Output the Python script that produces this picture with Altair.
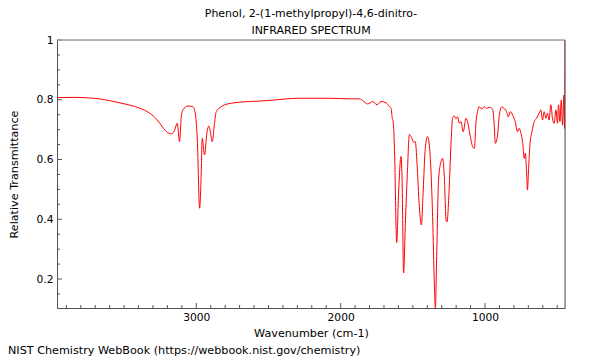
import altair as alt
import pandas as pd

# ---------------- data ----------------
wavenumber = [3965, 3843, 3739, 3670, 3600, 3531, 3462, 3393, 3323, 3275, 3233, 3199, 3171, 3150,
              3132, 3116, 3104, 3093, 3058, 3024, 3007, 2993, 2977, 2966, 2959, 2943, 2927, 2913,
              2901, 2890, 2874, 2862, 2827, 2782, 2735, 2514, 2285, 2077, 1939, 1870, 1847, 1813,
              1778, 1748, 1720, 1686, 1663, 1651, 1644, 1635, 1626, 1612, 1598, 1582, 1575, 1564,
              1552, 1538, 1524, 1508, 1495, 1483, 1471, 1455, 1441, 1428, 1414, 1398, 1381, 1363,
              1351, 1344, 1335, 1322, 1305, 1294, 1282, 1270, 1263, 1252, 1236, 1225, 1213, 1201,
              1190, 1178, 1167, 1151, 1132, 1121, 1104, 1086, 1074, 1062, 1052, 1040, 1024, 1005,
              987, 971, 948, 936, 929, 913, 901, 883, 867, 855, 839, 825, 809, 791, 775, 763, 751,
              740, 728, 721, 712, 706, 699, 689, 675, 659, 643, 625, 613, 602, 590, 578, 567, 556,
              544, 533, 521, 509, 498, 491, 481, 472, 463, 453, 449, 446]
transmittance = [0.807, 0.808, 0.806, 0.803, 0.797, 0.790, 0.782, 0.772, 0.755, 0.735, 0.708, 0.690,
                 0.686, 0.699, 0.721, 0.660, 0.743, 0.766, 0.779, 0.777, 0.754, 0.665, 0.437, 0.554,
                 0.671, 0.615, 0.688, 0.712, 0.688, 0.660, 0.721, 0.760, 0.777, 0.786, 0.790, 0.797,
                 0.805, 0.805, 0.803, 0.803, 0.797, 0.786, 0.794, 0.783, 0.794, 0.790, 0.777, 0.771,
                 0.743, 0.721, 0.610, 0.322, 0.498, 0.610, 0.543, 0.220, 0.386, 0.554, 0.684, 0.673,
                 0.658, 0.660, 0.587, 0.442, 0.381, 0.498, 0.637, 0.677, 0.621, 0.409, 0.186, 0.103,
                 0.275, 0.531, 0.593, 0.604, 0.542, 0.397, 0.391, 0.464, 0.649, 0.738, 0.746, 0.736,
                 0.743, 0.721, 0.727, 0.693, 0.738, 0.727, 0.682, 0.643, 0.637, 0.727, 0.760, 0.777,
                 0.769, 0.777, 0.771, 0.775, 0.769, 0.715, 0.654, 0.682, 0.749, 0.777, 0.769, 0.766,
                 0.743, 0.760, 0.749, 0.727, 0.693, 0.704, 0.688, 0.660, 0.604, 0.621, 0.559, 0.498,
                 0.559, 0.649, 0.693, 0.727, 0.738, 0.755, 0.766, 0.732, 0.760, 0.738, 0.755, 0.732,
                 0.783, 0.738, 0.721, 0.766, 0.721, 0.783, 0.727, 0.799, 0.715, 0.816, 0.704, 1.0]

x_major_ticks = [1000, 2000, 3000]
x_minor_ticks = [500, 600, 700, 800, 900, 1100, 1200, 1300, 1400, 1500, 1600, 1700, 1800, 1900,
                 2100, 2200, 2300, 2400, 2500, 2600, 2700, 2800, 2900, 3100, 3200, 3300, 3400,
                 3500, 3600, 3700, 3800, 3900]
y_major_ticks = [0.2, 0.4, 0.6, 0.8, 1.0]
y_minor_ticks = [0.15, 0.25, 0.3, 0.35, 0.45, 0.5, 0.55, 0.65, 0.7, 0.75, 0.85, 0.9, 0.95]

title_lines = ["Phenol, 2-(1-methylpropyl)-4,6-dinitro-", "INFRARED SPECTRUM"]
x_title = "Wavenumber (cm-1)"
y_title = "Relative Transmittance"
footer = "NIST Chemistry WebBook (https://webbook.nist.gov/chemistry)"

x_domain = [446, 3965]
y_domain = [0.103, 1.0]

# ---------------- chart ----------------
W, H = 508, 268
FONT = "DejaVu Sans"
AXIS_COLOR = "#555555"

spec_df = pd.DataFrame({"wn": wavenumber, "t": transmittance})
xscale = alt.Scale(domain=x_domain, reverse=True, nice=False, zero=False)
yscale = alt.Scale(domain=y_domain, nice=False, zero=False)

x_axis = alt.Axis(values=x_major_ticks, format="d", ticks=False, tickSize=0, grid=False,
                  domainColor=AXIS_COLOR, domainWidth=1,
                  labelFont=FONT, labelFontSize=10.7, labelColor="black",
                  labelPadding=12, labelBaseline="alphabetic",
                  title=x_title, titleFont=FONT, titleFontSize=11.2,
                  titleFontWeight="normal", titleColor="black",
                  titleX=W / 2, titleY=28, titleBaseline="alphabetic", titleAlign="center")
y_axis = alt.Axis(values=y_major_ticks, format=".1~f", ticks=False, tickSize=0,
                  grid=False, domainColor=AXIS_COLOR, domainWidth=1,
                  labelFont=FONT, labelFontSize=10.7, labelColor="black",
                  labelPadding=4,
                  title=y_title, titleFont=FONT, titleFontSize=11.2,
                  titleFontWeight="normal", titleColor="black",
                  titleX=-40, titleY=H / 2, titleBaseline="alphabetic",
                  titleAlign="center", titleAngle=270)

line = alt.Chart(spec_df).mark_line(color="#ff0000", strokeWidth=1, clip=True,
                                    interpolate="monotone").encode(
    x=alt.X("wn:Q", scale=xscale, axis=x_axis),
    y=alt.Y("t:Q", scale=yscale, axis=y_axis),
)

xt_major = alt.Chart(pd.DataFrame({"wn": x_major_ticks})).mark_rule(
    color=AXIS_COLOR, strokeWidth=1).encode(
    x=alt.X("wn:Q", scale=xscale, axis=x_axis), y=alt.value(H), y2=alt.value(H - 5))
xt_minor = alt.Chart(pd.DataFrame({"wn": x_minor_ticks})).mark_rule(
    color=AXIS_COLOR, strokeWidth=1).encode(
    x=alt.X("wn:Q", scale=xscale, axis=x_axis), y=alt.value(H), y2=alt.value(H - 3))
yt_major = alt.Chart(pd.DataFrame({"t": y_major_ticks})).mark_rule(
    color=AXIS_COLOR, strokeWidth=1).encode(
    y=alt.Y("t:Q", scale=yscale, axis=y_axis), x=alt.value(0), x2=alt.value(5))
yt_minor = alt.Chart(pd.DataFrame({"t": y_minor_ticks})).mark_rule(
    color=AXIS_COLOR, strokeWidth=1).encode(
    y=alt.Y("t:Q", scale=yscale, axis=y_axis), x=alt.value(0), x2=alt.value(3))

one = pd.DataFrame({"k": [0]})
top_border = alt.Chart(one).mark_rule(color="#a0a0a0", strokeWidth=1.5).encode(
    x=alt.value(0), x2=alt.value(W), y=alt.value(0))
right_border = alt.Chart(one).mark_rule(color=AXIS_COLOR, strokeWidth=1).encode(
    x=alt.value(W), y=alt.value(0), y2=alt.value(H))

footer_text = alt.Chart(one).mark_text(
    align="left", baseline="alphabetic", font=FONT, fontSize=11.2, color="black").encode(
    x=alt.value(-49), y=alt.value(314), text=alt.value(footer))

chart = alt.layer(line, xt_major, xt_minor, yt_major, yt_minor, top_border, right_border,
                  footer_text).properties(
    width=W, height=H,
    title=alt.TitleParams(text=title_lines, anchor="middle", frame="group",
                          font=FONT, fontSize=11,
                          fontWeight="normal", color="black", offset=6, dy=16.5,
                          baseline="alphabetic", lineHeight=16.5),
    autosize=alt.AutoSizeParams(type="none"),
    padding={"left": 49, "top": 32, "right": 27, "bottom": 50},
).configure_view(stroke=None).configure(background="white")

chart.save("out.html", embed_options={"renderer": "svg", "actions": False})
